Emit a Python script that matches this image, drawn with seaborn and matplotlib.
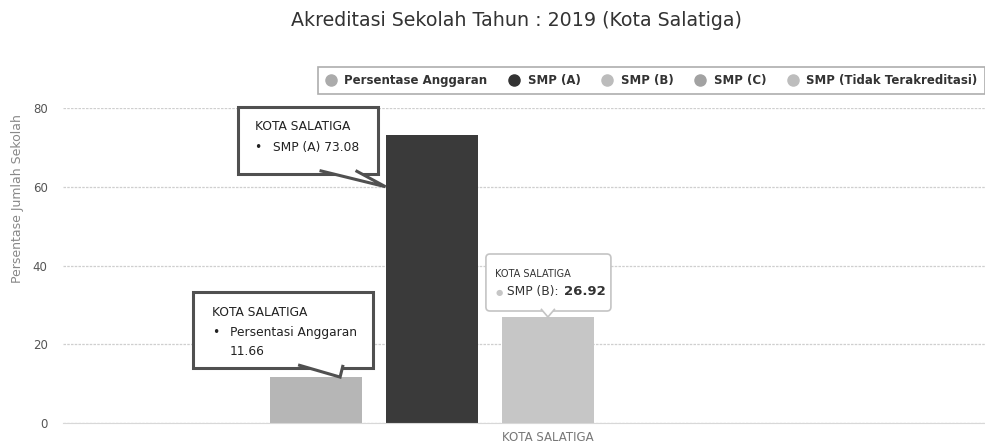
import matplotlib
matplotlib.use("Agg")
import matplotlib.pyplot as plt
from matplotlib.lines import Line2D
from matplotlib.patches import FancyBboxPatch, Polygon
from matplotlib.transforms import IdentityTransform
import seaborn as sns
import pandas as pd

# data
kota = ["KOTA SALATIGA"]
seri = ["Persentase Anggaran", "SMP (A)", "SMP (B)", "SMP (C)", "SMP (Tidak Terakreditasi)"]
nilai = [11.66, 73.08, 26.92, 0.0, 0.0]
warna_bar = ["#b6b6b6", "#3a3a3a", "#c6c6c6", "#a6a6a6", "#bdbdbd"]
warna_legend = ["#ababab", "#333333", "#bcbcbc", "#a2a2a2", "#bdbdbd"]

df = pd.DataFrame({"kota": kota * len(seri), "seri": seri, "nilai": nilai})

sns.set_style("white")
plt.rcParams["font.family"] = ["DejaVu Sans"]

fig = plt.figure(figsize=(9.85, 4.45), dpi=100)
ax = fig.add_axes([63 / 985, 1 - 423 / 445, 1 - 63 / 985, (423 - 108) / 445])

sns.barplot(data=df, x="kota", y="nilai", hue="seri", hue_order=seri,
            palette=warna_bar, width=0.8, gap=0.2, legend=False, ax=ax,
            saturation=1, linewidth=0)

ax.set_xlim(-0.669, 0.603)
ax.set_ylim(0, 80)
ax.set_yticks([0, 20, 40, 60, 80])
ax.yaxis.grid(True, color="#cfcfcf", linestyle=(0, (2, 1)), linewidth=0.9)
ax.set_axisbelow(True)
for s in ["top", "right", "left"]:
    ax.spines[s].set_visible(False)
ax.spines["bottom"].set_color("#d8d8d8")
ax.tick_params(axis="y", length=0, labelsize=8.5, labelcolor="#555555", pad=11)
ax.tick_params(axis="x", length=0, labelsize=8.5, labelcolor="#777777", pad=6)
ax.set_xlabel("")
ax.set_ylabel("Persentase Jumlah Sekolah", fontsize=9, color="#888888")
ax.yaxis.set_label_coords(-0.042, 0.714)

fig.text(516 / 985, 1 - 20 / 445, "Akreditasi Sekolah Tahun : 2019 (Kota Salatiga)",
         ha="center", va="center", fontsize=13.7, color="#333333")

# legend (titik bulat)
handles = [Line2D([], [], marker="o", linestyle="", markersize=8,
                  markerfacecolor=c, markeredgecolor=c) for c in warna_legend]
leg = fig.legend(handles, seri, ncol=5, loc="upper left",
                 bbox_to_anchor=(312 / 985, 1 - 61 / 445), frameon=True,
                 prop={"weight": "bold", "size": 8.5}, handletextpad=0.65,
                 columnspacing=1.75, borderpad=0.6, handlelength=1.0,
                 fancybox=False)
leg.get_frame().set_edgecolor("#9a9a9a")
leg.get_frame().set_linewidth(1.2)
for t in leg.get_texts():
    t.set_color("#333333")

# tooltip: kotak + segitiga penunjuk, dalam piksel relatif ke ujung penunjuk
px = IdentityTransform()


def tooltip(x, y, kiri, bawah, lebar, tinggi, alas, ec, lw, gaya):
    tx, ty = ax.transData.transform((x, y))
    kotak = FancyBboxPatch((tx + kiri, ty + bawah), lebar, tinggi, boxstyle=gaya,
                           fc="white", ec=ec, lw=lw, transform=px, zorder=5)
    fig.add_artist(kotak)
    segitiga = Polygon([(tx + alas[0], ty + bawah + lw + 1), (tx, ty),
                        (tx + alas[1], ty + bawah + lw + 1)], closed=False,
                       fc="white", ec=ec, lw=lw, transform=px, zorder=6)
    fig.add_artist(segitiga)
    return tx, ty


def teks(tx, ty, dx, dy, s, **kw):
    fig.text(tx + dx, ty + dy, s, transform=px, ha="left", va="center",
             zorder=7, **kw)


bars = ax.patches

# Persentase Anggaran
p0 = bars[0]
tx, ty = tooltip(p0.get_x() + p0.get_width() * 0.76, nilai[0], -147, 9, 180, 76,
                 (-42, 3), "#505050", 2.2, "square,pad=0")
teks(tx, ty, -128, 65, "KOTA SALATIGA", fontsize=8.8, color="#222222")
teks(tx, ty, -128, 45, "•", fontsize=8.8, color="#222222")
teks(tx, ty, -110, 45, "Persentasi Anggaran", fontsize=8.8, color="#222222")
teks(tx, ty, -110, 26, f"{nilai[0]:.2f}", fontsize=8.8, color="#222222")

# SMP (A)
p1 = bars[1]
tx, ty = tooltip(p1.get_x(), 60, -148, 13, 140, 67, (-66, -30),
                 "#505050", 2.2, "square,pad=0")
teks(tx, ty, -131, 60, "KOTA SALATIGA", fontsize=8.8, color="#222222")
teks(tx, ty, -131, 39, "•", fontsize=8.8, color="#222222")
teks(tx, ty, -113, 39, f"SMP (A) {nilai[1]:.2f}", fontsize=8.8, color="#222222")

# SMP (B)
p2 = bars[2]
tx, ty = tooltip(p2.get_x() + p2.get_width() / 2, nilai[2], -62, 6, 125, 57,
                 (-7, 7), "#c4c4c4", 1.2, "round,pad=0,rounding_size=4")
teks(tx, ty, -53, 43, "KOTA SALATIGA", fontsize=7, color="#333333")
teks(tx, ty, -52, 25, "●", fontsize=6, color=warna_bar[2])
teks(tx, ty, -41, 26, "SMP (B):", fontsize=8.8, color="#333333")
teks(tx, ty, 16, 26, f"{nilai[2]:.2f}", fontsize=9.5, weight="bold", color="#333333")

fig.savefig("out.png", dpi=100)
